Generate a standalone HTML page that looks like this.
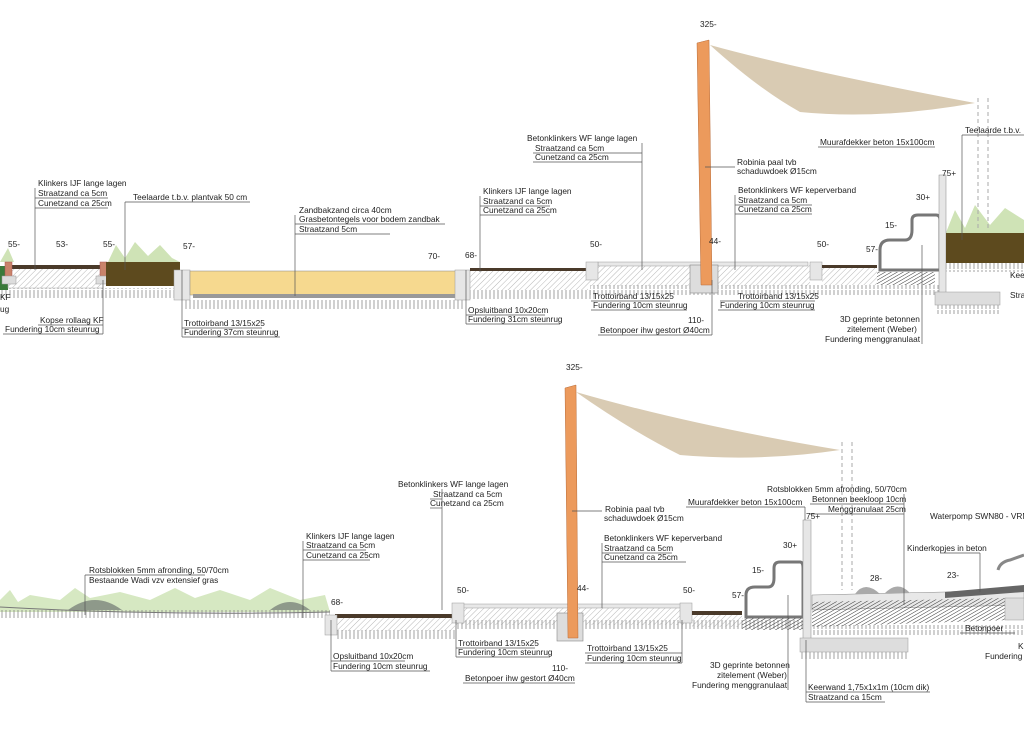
<!DOCTYPE html>
<html><head><meta charset="utf-8"><style>
html,body{margin:0;padding:0;background:#fff}
svg{display:block}
text{font-family:"Liberation Sans",sans-serif;font-size:8.3px;fill:#222}
.u{stroke:#555;stroke-width:.7}
</style></head><body>
<svg width="1024" height="743" viewBox="0 0 1024 743" xmlns="http://www.w3.org/2000/svg">
<defs>
<pattern id="tick" width="4" height="10" patternUnits="userSpaceOnUse"><line x1="2" y1="0" x2="2" y2="9" stroke="#777" stroke-width=".7"/></pattern>
<pattern id="hat" width="4" height="4" patternUnits="userSpaceOnUse" patternTransform="rotate(45)"><line x1="0" y1="0" x2="0" y2="4" stroke="#999" stroke-width=".7"/></pattern>
<pattern id="dhat" width="3" height="3" patternUnits="userSpaceOnUse" patternTransform="rotate(60)"><line x1="0" y1="0" x2="0" y2="3" stroke="#333" stroke-width="1"/></pattern>
</defs>

<!-- ================= TOP SECTION ================= -->
<path d="M0 262 L8 248 L14 262 L108 262 L116 245 L125 258 L135 242 L148 256 L160 245 L172 258 L180 262 Z" fill="#cfe3b6"/>
<path d="M945 235 L955 210 L965 228 L975 205 L990 225 L1005 208 L1024 220 L1024 235 Z" fill="#cfe3b6"/>
<rect x="0" y="288" width="190" height="10" fill="url(#tick)"/>
<rect x="185" y="300" width="280" height="10" fill="url(#tick)"/>
<rect x="465" y="290" width="130" height="10" fill="url(#tick)"/>
<rect x="590" y="285" width="350" height="10" fill="url(#tick)"/>
<rect x="945" y="262" width="79" height="10" fill="url(#tick)"/>
<rect x="935" y="305" width="65" height="9" fill="url(#tick)"/>
<rect x="0" y="266" width="8" height="24" fill="#3a7a3a"/>
<rect x="8" y="266" width="95" height="22" fill="url(#hat)" stroke="#aaa" stroke-width=".5"/>
<rect x="8" y="265" width="95" height="4" fill="#4a3a2a"/>
<rect x="5" y="262" width="7" height="16" fill="#c9836a" stroke="#a55" stroke-width=".5"/>
<rect x="100" y="262" width="7" height="16" fill="#c9836a" stroke="#a55" stroke-width=".5"/>
<rect x="2" y="276" width="14" height="8" fill="#ddd" stroke="#999" stroke-width=".5"/>
<rect x="96" y="276" width="14" height="8" fill="#ddd" stroke="#999" stroke-width=".5"/>
<rect x="106" y="262" width="74" height="24" fill="#5d4a1e"/>
<rect x="174" y="270" width="16" height="30" fill="#e6e6e6" stroke="#999" stroke-width=".5"/>
<rect x="190" y="271" width="268" height="24" fill="#f6d98f" stroke="#888" stroke-width=".5"/>
<rect x="193" y="294" width="262" height="4" fill="#999"/>
<rect x="455" y="270" width="15" height="30" fill="#e6e6e6" stroke="#999" stroke-width=".5"/>
<rect x="470" y="270" width="118" height="20" fill="url(#hat)"/>
<rect x="470" y="268" width="118" height="3" fill="#4a3a2a"/>
<rect x="588" y="262" width="222" height="24" fill="url(#hat)"/>
<rect x="598" y="262" width="210" height="4" fill="#e8e8e8" stroke="#888" stroke-width=".4"/>
<rect x="586" y="262" width="12" height="18" fill="#e6e6e6" stroke="#999" stroke-width=".5"/>
<rect x="810" y="262" width="12" height="18" fill="#e6e6e6" stroke="#999" stroke-width=".5"/>
<rect x="822" y="265" width="55" height="20" fill="url(#hat)"/>
<rect x="822" y="265" width="55" height="3" fill="#4a3a2a"/>
<rect x="877" y="272" width="58" height="13" fill="url(#dhat)"/>
<path d="M880 270 L880 250 Q880 240 890 240 L905 240 Q912 240 912 230 L912 220 Q912 215 918 215 L936 215 Q940 215 940 220 L940 270 Z" fill="#fff" stroke="#777" stroke-width="3"/>
<rect x="939" y="175" width="7" height="118" fill="#e6e6e6" stroke="#888" stroke-width=".5"/>
<rect x="935" y="292" width="65" height="13" fill="#ddd" stroke="#999" stroke-width=".5"/>
<rect x="946" y="233" width="78" height="30" fill="#5d4a1e"/>
<line x1="978" y1="98" x2="978" y2="230" stroke="#aaa" stroke-dasharray="4 3"/>
<line x1="988" y1="98" x2="988" y2="230" stroke="#aaa" stroke-dasharray="4 3"/>
<rect x="690" y="265" width="28" height="28" fill="#ddd" stroke="#888" stroke-width=".6"/>
<path d="M697 43 L709 40 L712 285 L701 285 Z" fill="#ec9a5c" stroke="#b86c3a" stroke-width=".5"/>
<path d="M710 45 Q800 70 975 103 Q880 120 800 112 Q760 90 710 45 Z" fill="#d9cbb3"/>
<text x="700" y="27">325-</text>
<text x="38" y="186">Klinkers IJF lange lagen</text>
<text x="38" y="196">Straatzand ca 5cm</text><line class="u" x1="35" y1="198" x2="108" y2="198"/>
<text x="38" y="206">Cunetzand ca 25cm</text><line class="u" x1="35" y1="208" x2="108" y2="208"/>
<line class="u" x1="35" y1="188" x2="35" y2="270"/>
<text x="133" y="200">Teelaarde t.b.v. plantvak 50 cm</text><line class="u" x1="125" y1="202" x2="250" y2="202"/><line class="u" x1="125" y1="202" x2="125" y2="270"/>
<text x="299" y="213">Zandbakzand circa 40cm</text>
<text x="299" y="222">Grasbetontegels voor bodem zandbak</text><line class="u" x1="295" y1="224" x2="445" y2="224"/>
<text x="299" y="232">Straatzand 5cm</text><line class="u" x1="295" y1="234" x2="390" y2="234"/>
<line class="u" x1="295" y1="215" x2="295" y2="296"/>
<text x="483" y="194">Klinkers IJF lange lagen</text>
<text x="483" y="204">Straatzand ca 5cm</text><line class="u" x1="480" y1="206" x2="550" y2="206"/>
<text x="483" y="213">Cunetzand ca 25cm</text><line class="u" x1="480" y1="215" x2="550" y2="215"/>
<line class="u" x1="480" y1="196" x2="480" y2="272"/>
<text x="527" y="141">Betonklinkers WF lange lagen</text>
<text x="535" y="151">Straatzand ca 5cm</text><line class="u" x1="533" y1="153" x2="642" y2="153"/>
<text x="535" y="160">Cunetzand ca 25cm</text><line class="u" x1="533" y1="162" x2="642" y2="162"/>
<line class="u" x1="642" y1="143" x2="642" y2="270"/>
<text x="737" y="165">Robinia paal tvb</text><text x="737" y="174">schaduwdoek Ø15cm</text><line class="u" x1="705" y1="167" x2="735" y2="167"/>
<text x="820" y="145">Muurafdekker beton 15x100cm</text><line class="u" x1="818" y1="147" x2="935" y2="147"/>
<text x="965" y="133">Teelaarde t.b.v.</text><line class="u" x1="962" y1="135" x2="1024" y2="135"/><line class="u" x1="962" y1="135" x2="962" y2="240"/>
<text x="738" y="193">Betonklinkers WF keperverband</text>
<text x="738" y="203">Straatzand ca 5cm</text><line class="u" x1="735" y1="205" x2="812" y2="205"/>
<text x="738" y="212">Cunetzand ca 25cm</text><line class="u" x1="735" y1="214" x2="812" y2="214"/>
<line class="u" x1="735" y1="195" x2="735" y2="270"/>
<text x="40" y="323">Kopse rollaag KF</text><line class="u" x1="38" y1="325" x2="103" y2="325"/>
<text x="5" y="332">Fundering 10cm steunrug</text><line class="u" x1="3" y1="334" x2="103" y2="334"/><line class="u" x1="103" y1="280" x2="103" y2="334"/>
<text x="0" y="300">KF</text><text x="0" y="312">ug</text>
<text x="184" y="326">Trottoirband 13/15x25</text><line class="u" x1="182" y1="328" x2="262" y2="328"/>
<text x="184" y="335">Fundering 37cm steunrug</text><line class="u" x1="182" y1="337" x2="280" y2="337"/><line class="u" x1="182" y1="270" x2="182" y2="337"/>
<text x="468" y="313">Opsluitband 10x20cm</text><line class="u" x1="466" y1="315" x2="545" y2="315"/>
<text x="468" y="322">Fundering 31cm steunrug</text><line class="u" x1="466" y1="324" x2="560" y2="324"/><line class="u" x1="466" y1="270" x2="466" y2="324"/>
<text x="593" y="299">Trottoirband 13/15x25</text><line class="u" x1="591" y1="301" x2="670" y2="301"/>
<text x="593" y="308">Fundering 10cm steunrug</text><line class="u" x1="591" y1="310" x2="687" y2="310"/>
<text x="688" y="323">110-</text>
<text x="600" y="333">Betonpoer ihw gestort Ø40cm</text><line class="u" x1="598" y1="335" x2="712" y2="335"/><line class="u" x1="712" y1="280" x2="712" y2="335"/>
<text x="738" y="299">Trottoirband 13/15x25</text><line class="u" x1="720" y1="301" x2="815" y2="301"/>
<text x="720" y="308">Fundering 10cm steunrug</text><line class="u" x1="718" y1="310" x2="815" y2="310"/>
<text x="840" y="322">3D geprinte betonnen</text>
<text x="847" y="332">zitelement (Weber)</text>
<text x="825" y="342">Fundering menggranulaat</text><line class="u" x1="922" y1="245" x2="922" y2="344"/>
<text x="1010" y="278">Kee</text><text x="1010" y="298">Stra</text>
<text x="8" y="247">55-</text><text x="56" y="247">53-</text><text x="103" y="247">55-</text>
<text x="183" y="249">57-</text><text x="428" y="259">70-</text><text x="465" y="258">68-</text>
<text x="590" y="247">50-</text><text x="709" y="244">44-</text><text x="817" y="247">50-</text>
<text x="866" y="252">57-</text><text x="885" y="228">15-</text><text x="916" y="200">30+</text><text x="942" y="176">75+</text>

<!-- ================= BOTTOM SECTION ================= -->
<path d="M0 600 L10 590 L18 602 L30 595 L60 600 L75 588 L90 598 L120 592 L150 600 L175 588 L195 598 L220 590 L250 600 L270 588 L300 600 L325 595 L330 612 L0 612 Z" fill="#d6e8c2"/>
<path d="M68 610 Q95 590 122 610 Z" fill="#8e998a"/>
<path d="M270 610 Q290 594 310 610 Z" fill="#8e998a"/>
<path d="M0 607 Q160 616 330 612" fill="none" stroke="#777"/>
<rect x="0" y="610" width="330" height="8" fill="url(#tick)"/>
<rect x="335" y="630" width="120" height="9" fill="url(#tick)"/>
<rect x="455" y="620" width="350" height="9" fill="url(#tick)"/>
<rect x="800" y="650" width="108" height="10" fill="url(#tick)"/>
<rect x="812" y="625" width="212" height="10" fill="url(#tick)"/>
<rect x="335" y="617" width="120" height="14" fill="url(#hat)"/>
<rect x="335" y="614" width="120" height="4" fill="#4a3a2a"/>
<rect x="325" y="615" width="12" height="20" fill="#e6e6e6" stroke="#999" stroke-width=".5"/>
<rect x="455" y="605" width="230" height="20" fill="url(#hat)"/>
<rect x="462" y="604" width="220" height="4" fill="#e8e8e8" stroke="#888" stroke-width=".4"/>
<rect x="452" y="603" width="12" height="20" fill="#e6e6e6" stroke="#999" stroke-width=".5"/>
<rect x="680" y="603" width="12" height="20" fill="#e6e6e6" stroke="#999" stroke-width=".5"/>
<rect x="692" y="612" width="50" height="15" fill="url(#hat)"/>
<rect x="692" y="611" width="50" height="4" fill="#4a3a2a"/>
<rect x="742" y="618" width="62" height="12" fill="url(#dhat)"/>
<path d="M746 617 L746 595 Q746 587 755 587 L768 587 Q774 587 774 578 L774 568 Q774 562 780 562 L800 562 Q803 562 803 568 L803 617 Z" fill="#fff" stroke="#777" stroke-width="3"/>
<rect x="803" y="520" width="8" height="120" fill="#e6e6e6" stroke="#888" stroke-width=".5"/>
<rect x="800" y="638" width="108" height="14" fill="#ddd" stroke="#999" stroke-width=".5"/>
<path d="M812 595 L945 592 L1024 588 L1024 605 L812 610 Z" fill="#e8e8e8" stroke="#888" stroke-width=".5"/>
<path d="M812 602 L1010 598 L1010 620 L812 627 Z" fill="url(#dhat)"/>
<path d="M945 592 L1024 585 L1024 592 L945 598 Z" fill="#666"/>
<path d="M855 594 Q865 580 880 594 Z M885 593 Q898 580 910 593 Z" fill="#aaa"/>
<rect x="1005" y="598" width="19" height="22" fill="#ddd" stroke="#999" stroke-width=".5"/>
<path d="M1024 555 L1010 560 Q1000 562 998 570" fill="none" stroke="#888" stroke-width="3"/>
<line x1="842" y1="442" x2="842" y2="590" stroke="#aaa" stroke-dasharray="4 3"/>
<line x1="852" y1="442" x2="852" y2="590" stroke="#aaa" stroke-dasharray="4 3"/>
<rect x="557" y="613" width="26" height="28" fill="#ddd" stroke="#888" stroke-width=".6"/>
<path d="M565 388 L576 385 L578 638 L568 638 Z" fill="#ec9a5c" stroke="#b86c3a" stroke-width=".5"/>
<path d="M576 392 Q690 425 840 450 Q760 462 680 455 Q630 430 576 392 Z" fill="#d9cbb3"/>
<text x="566" y="370">325-</text>
<text x="89" y="573">Rotsblokken 5mm afronding, 50/70cm</text><line class="u" x1="85" y1="575" x2="205" y2="575"/>
<text x="89" y="583">Bestaande Wadi vzv extensief gras</text><line class="u" x1="85" y1="575" x2="85" y2="615"/>
<text x="306" y="539">Klinkers IJF lange lagen</text>
<text x="306" y="548">Straatzand ca 5cm</text><line class="u" x1="303" y1="550" x2="366" y2="550"/>
<text x="306" y="558">Cunetzand ca 25cm</text><line class="u" x1="303" y1="560" x2="370" y2="560"/>
<line class="u" x1="303" y1="541" x2="303" y2="618"/>
<text x="398" y="487">Betonklinkers WF lange lagen</text>
<text x="433" y="497">Straatzand ca 5cm</text><line class="u" x1="430" y1="499" x2="442" y2="499"/>
<text x="430" y="506">Cunetzand ca 25cm</text><line class="u" x1="430" y1="508" x2="442" y2="508"/>
<line class="u" x1="442" y1="489" x2="442" y2="610"/>
<text x="605" y="512">Robinia paal tvb</text><text x="604" y="521">schaduwdoek Ø15cm</text><line class="u" x1="572" y1="511" x2="602" y2="511"/>
<text x="688" y="505">Muurafdekker beton 15x100cm</text><line class="u" x1="686" y1="507" x2="805" y2="507"/><line class="u" x1="805" y1="507" x2="805" y2="520"/>
<text x="767" y="492">Rotsblokken 5mm afronding, 50/70cm</text>
<text x="812" y="502">Betonnen beekloop 10cm</text><line class="u" x1="810" y1="504" x2="904" y2="504"/>
<text x="828" y="512">Menggranulaat 25cm</text><line class="u" x1="810" y1="514" x2="904" y2="514"/><line class="u" x1="904" y1="494" x2="904" y2="605"/>
<text x="930" y="519">Waterpomp SWN80 - VRM</text>
<text x="604" y="541">Betonklinkers WF keperverband</text>
<text x="604" y="551">Straatzand ca 5cm</text><line class="u" x1="602" y1="553" x2="672" y2="553"/>
<text x="604" y="560">Cunetzand ca 25cm</text><line class="u" x1="602" y1="562" x2="686" y2="562"/>
<line class="u" x1="602" y1="543" x2="602" y2="608"/>
<text x="907" y="551">Kinderkopjes in beton</text><line class="u" x1="940" y1="553" x2="980" y2="553"/><line class="u" x1="980" y1="553" x2="980" y2="592"/>
<text x="806" y="519">75+</text><text x="783" y="548">30+</text><text x="752" y="573">15-</text><text x="732" y="598">57-</text>
<text x="331" y="605">68-</text><text x="457" y="593">50-</text><text x="577" y="591">44-</text><text x="683" y="593">50-</text>
<text x="870" y="581">28-</text><text x="947" y="578">23-</text>
<text x="333" y="659">Opsluitband 10x20cm</text><line class="u" x1="331" y1="661" x2="405" y2="661"/>
<text x="333" y="669">Fundering 10cm steunrug</text><line class="u" x1="331" y1="671" x2="430" y2="671"/><line class="u" x1="331" y1="620" x2="331" y2="671"/>
<text x="458" y="646">Trottoirband 13/15x25</text><line class="u" x1="456" y1="648" x2="535" y2="648"/>
<text x="458" y="655">Fundering 10cm steunrug</text><line class="u" x1="456" y1="657" x2="550" y2="657"/><line class="u" x1="456" y1="620" x2="456" y2="657"/>
<text x="552" y="671">110-</text>
<text x="465" y="681">Betonpoer ihw gestort Ø40cm</text><line class="u" x1="463" y1="683" x2="575" y2="683"/>
<text x="587" y="651">Trottoirband 13/15x25</text><line class="u" x1="585" y1="653" x2="682" y2="653"/>
<text x="587" y="661">Fundering 10cm steunrug</text><line class="u" x1="585" y1="663" x2="682" y2="663"/><line class="u" x1="682" y1="620" x2="682" y2="663"/>
<text x="710" y="668">3D geprinte betonnen</text>
<text x="717" y="678">zitelement (Weber)</text>
<text x="692" y="688">Fundering menggranulaat</text><line class="u" x1="788" y1="595" x2="788" y2="690"/>
<text x="808" y="690">Keerwand 1,75x1x1m (10cm dik)</text><line class="u" x1="806" y1="692" x2="930" y2="692"/>
<text x="808" y="700">Straatzand ca 15cm</text><line class="u" x1="806" y1="702" x2="885" y2="702"/><line class="u" x1="806" y1="640" x2="806" y2="702"/>
<text x="965" y="631">Betonpoer</text><line class="u" x1="960" y1="633" x2="1015" y2="633"/>
<text x="1018" y="649">K</text><text x="985" y="659">Fundering</text>
</svg>
</body></html>
